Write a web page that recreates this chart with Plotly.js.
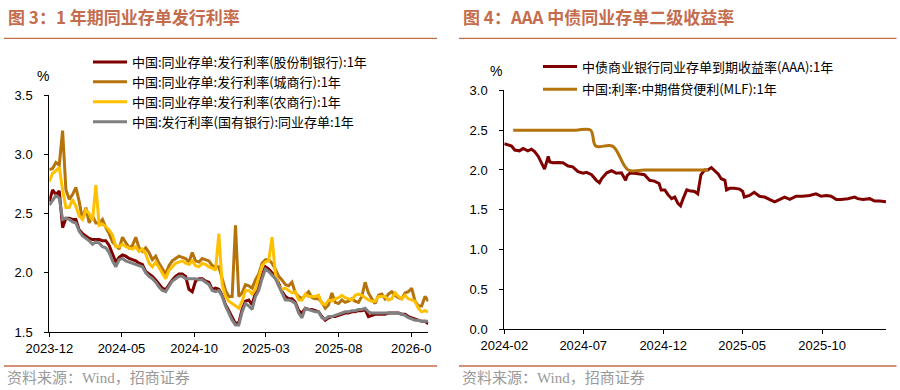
<!DOCTYPE html>
<html><head><meta charset="utf-8">
<script src="https://cdn.plot.ly/plotly-3.0.1.min.js"></script>
<style>html,body{margin:0;padding:0;background:#fff}#chart{width:900px;height:390px}</style>
</head><body><div id="chart"></div>
<script>
// ---------- Left chart: weekly issuance rates ----------
const weekDates = [
'2023-12-01','2023-12-08','2023-12-15','2023-12-22','2023-12-29',
'2024-01-05','2024-01-12','2024-01-19','2024-01-26',
'2024-02-02','2024-02-09','2024-02-16','2024-02-23',
'2024-03-01','2024-03-08','2024-03-15','2024-03-22','2024-03-29',
'2024-04-05','2024-04-12','2024-04-19','2024-04-26',
'2024-05-03','2024-05-10','2024-05-17','2024-05-24','2024-05-31',
'2024-06-07','2024-06-14','2024-06-21','2024-06-28',
'2024-07-05','2024-07-12','2024-07-19','2024-07-26',
'2024-08-02','2024-08-09','2024-08-16','2024-08-23','2024-08-30',
'2024-09-06','2024-09-13','2024-09-20','2024-09-27',
'2024-10-04','2024-10-11','2024-10-18','2024-10-25',
'2024-11-01','2024-11-08','2024-11-15','2024-11-22','2024-11-29',
'2024-12-06','2024-12-13','2024-12-20','2024-12-27',
'2025-01-03','2025-01-10','2025-01-17','2025-01-24','2025-01-31',
'2025-02-07','2025-02-14','2025-02-21','2025-02-28',
'2025-03-07','2025-03-14','2025-03-21','2025-03-28',
'2025-04-04','2025-04-11','2025-04-18','2025-04-25',
'2025-05-02','2025-05-09','2025-05-16','2025-05-23','2025-05-30',
'2025-06-06','2025-06-13','2025-06-20','2025-06-27',
'2025-07-04','2025-07-11','2025-07-18','2025-07-25',
'2025-08-01','2025-08-08','2025-08-15','2025-08-22','2025-08-29',
'2025-09-05','2025-09-12','2025-09-19','2025-09-26',
'2025-10-03','2025-10-10','2025-10-17','2025-10-24','2025-10-31',
'2025-11-07','2025-11-14','2025-11-21','2025-11-28',
'2025-12-05','2025-12-12','2025-12-19','2025-12-26',
'2026-01-02','2026-01-09','2026-01-16','2026-01-23','2026-01-30',
'2026-02-06'];

const rateJointStock = [
2.60,2.70,2.66,2.69,2.38,2.46,2.46,2.45,2.45,2.36,
2.33,2.31,2.29,2.28,2.28,2.28,2.27,2.27,2.23,2.16,
2.09,2.13,2.15,2.14,2.12,2.11,2.10,2.08,2.07,2.01,
1.99,1.97,1.94,1.90,1.87,1.855,1.90,1.94,1.97,1.99,
1.99,1.97,1.86,1.84,1.93,1.95,1.95,1.93,1.92,1.86,
1.87,1.86,1.81,1.73,1.68,1.62,1.57,1.58,1.69,1.76,
1.77,1.73,1.83,1.88,1.98,2.05,2.03,2.00,1.97,1.91,
1.84,1.80,1.78,1.78,1.75,1.68,1.66,1.70,1.69,1.69,
1.68,1.67,1.63,1.60,1.62,1.63,1.63,1.64,1.65,1.66,
1.66,1.67,1.67,1.68,1.68,1.69,1.63,1.64,1.65,1.65,
1.65,1.65,1.66,1.66,1.66,1.66,1.65,1.65,1.63,1.62,
1.61,1.60,1.59,1.59,1.57];

const rateCityBank = [
2.87,2.88,2.93,2.91,3.20,2.70,2.62,2.66,2.72,2.60,
2.45,2.55,2.42,2.48,2.42,2.42,2.45,2.38,2.33,2.26,
2.23,2.20,2.30,2.26,2.21,2.23,2.30,2.21,2.18,2.21,
2.17,2.11,2.14,2.08,2.03,1.99,2.06,2.10,2.12,2.14,
2.13,2.12,2.09,2.17,2.10,2.09,2.12,2.11,2.10,2.06,
2.05,2.05,1.94,1.85,1.80,1.80,2.40,1.80,1.83,1.90,
1.89,1.87,1.94,1.99,2.08,2.11,2.11,2.08,2.03,1.97,
1.94,1.90,1.89,1.92,1.83,1.80,1.78,1.81,1.84,1.79,
1.78,1.78,1.75,1.70,1.73,1.83,1.75,1.74,1.77,1.75,
1.76,1.78,1.76,1.75,1.80,1.92,1.83,1.78,1.74,1.81,
1.82,1.78,1.82,1.84,1.81,1.79,1.78,1.83,1.84,1.87,
1.76,1.72,1.72,1.80,1.76];

const rateRuralBank = [
2.77,2.84,2.86,2.89,2.70,2.55,2.55,2.62,2.56,2.48,
2.45,2.53,2.50,2.44,2.74,2.40,2.41,2.39,2.36,2.32,
2.22,2.22,2.24,2.22,2.21,2.20,2.22,2.18,2.20,2.16,
2.08,2.05,2.09,2.04,1.99,1.95,2.02,2.05,2.08,2.09,
2.10,2.08,2.07,2.10,2.06,2.05,2.08,2.07,2.05,2.04,
2.02,2.33,1.90,1.80,1.76,1.74,1.72,1.70,1.76,1.85,
1.85,1.82,1.86,1.95,2.06,2.09,2.10,2.30,1.99,1.89,
1.86,1.87,1.85,1.83,1.84,1.77,1.77,1.82,1.80,1.80,
1.80,1.81,1.74,1.73,1.77,1.76,1.78,1.79,1.81,1.79,
1.78,1.77,1.81,1.82,1.81,1.79,1.77,1.76,1.76,1.80,
1.80,1.80,1.77,1.78,1.83,1.80,1.78,1.81,1.78,1.77,
1.76,1.70,1.67,1.68,1.67];

const rateStateBank = [
2.57,2.61,2.65,2.63,2.45,2.46,2.45,2.43,2.42,2.35,
2.31,2.29,2.27,2.24,2.26,2.25,2.22,2.21,2.17,2.10,
2.05,2.11,2.12,2.10,2.09,2.08,2.07,2.06,2.05,2.00,
1.97,1.95,1.92,1.88,1.85,1.84,1.89,1.93,1.95,1.97,
1.97,1.95,1.95,1.95,1.95,1.94,1.94,1.92,1.90,1.85,
1.84,1.85,1.80,1.72,1.66,1.60,1.56,1.56,1.67,1.74,
1.72,1.69,1.80,1.85,1.95,2.03,2.01,1.98,1.95,1.89,
1.83,1.77,1.77,1.76,1.74,1.66,1.62,1.70,1.69,1.68,
1.67,1.67,1.62,1.61,1.63,1.63,1.64,1.65,1.66,1.67,
1.67,1.68,1.68,1.69,1.69,1.70,1.67,1.66,1.66,1.66,
1.66,1.66,1.66,1.66,1.66,1.66,1.65,1.64,1.62,1.61,
1.60,1.60,1.59,1.59,1.59];

const leftNames = [
'中国:同业存单:发行利率(股份制银行):1年',
'中国:同业存单:发行利率(城商行):1年',
'中国:同业存单:发行利率(农商行):1年',
'中国:发行利率(国有银行):同业存单:1年'];
const leftTickVals = ['2023-12-01','2024-05-01','2024-10-01','2025-03-01','2025-08-01','2026-01-01'];
const leftTickText = ['2023-12','2024-05','2024-10','2025-03','2025-08','2026-0'];

// ---------- Right chart ----------
const aaaDates = [
'2024-02-01','2024-02-09','2024-02-15','2024-02-21','2024-03-01','2024-03-08','2024-03-17','2024-03-24','2024-03-30',
'2024-04-06','2024-04-12','2024-04-18','2024-04-25','2024-04-28','2024-05-04','2024-05-14','2024-05-23',
'2024-06-02','2024-06-11','2024-06-21','2024-07-01','2024-07-07','2024-07-17','2024-07-26','2024-08-01','2024-08-05',
'2024-08-15','2024-08-24','2024-09-02','2024-09-12','2024-09-20','2024-09-23','2024-09-28','2024-10-07','2024-10-17',
'2024-10-26','2024-11-05','2024-11-14','2024-11-23','2024-11-27','2024-12-04','2024-12-10','2024-12-17','2024-12-23',
'2024-12-29','2025-01-03','2025-01-08','2025-01-15','2025-01-20','2025-01-30','2025-02-05','2025-02-11','2025-02-18',
'2025-02-24','2025-03-03','2025-03-10','2025-03-16','2025-03-22','2025-03-29','2025-04-01','2025-04-07','2025-04-16',
'2025-04-26','2025-05-02','2025-05-05','2025-05-15','2025-05-24','2025-06-03','2025-06-13','2025-06-22','2025-07-02',
'2025-07-12','2025-07-21','2025-07-31','2025-08-12','2025-08-25','2025-09-07','2025-09-19','2025-09-29','2025-10-09',
'2025-10-18','2025-10-28','2025-11-06','2025-11-19','2025-12-02','2025-12-08','2025-12-18','2025-12-31','2026-01-09',
'2026-01-19','2026-01-31'];
const aaaYield = [
2.33,2.31,2.30,2.25,2.24,2.27,2.24,2.26,2.23,
2.17,2.08,2.01,2.17,2.10,2.09,2.095,2.09,
2.05,2.04,1.98,1.96,1.97,1.94,1.87,1.84,1.89,
1.965,1.99,1.96,1.965,1.87,1.93,1.96,1.96,1.95,
1.94,1.87,1.86,1.83,1.75,1.75,1.69,1.64,1.66,
1.58,1.55,1.64,1.75,1.74,1.73,1.70,1.94,2.00,
2.00,2.03,1.98,1.95,1.89,1.87,1.75,1.77,1.77,
1.76,1.73,1.66,1.68,1.72,1.67,1.66,1.63,1.60,
1.63,1.66,1.63,1.67,1.67,1.68,1.70,1.67,1.68,
1.67,1.63,1.63,1.64,1.66,1.64,1.63,1.64,1.61,
1.61,1.60];

const mlfDates = ['2024-02-18','2024-03-15','2024-04-15','2024-05-15','2024-06-17','2024-07-15','2024-07-25',
'2024-08-26','2024-09-25','2024-10-25','2024-11-25','2024-12-25','2025-01-15','2025-02-25'];
const mlfRate = [2.5,2.5,2.5,2.5,2.5,2.5,2.3,2.3,2.0,2.0,2.0,2.0,2.0,2.0];

const rightNames = ['中债商业银行同业存单到期收益率(AAA):1年','中国:利率:中期借贷便利(MLF):1年'];
const rightTickVals = ['2024-02-01','2024-07-01','2024-12-01','2025-05-01','2025-10-01'];
const rightTickText = ['2024-02','2024-07','2024-12','2025-05','2025-10'];

// ---------- styling ----------
const W = 900, H = 390;
const px = v => v / W, py = v => 1 - v / H;
const DARKRED = '#800000', GOLD = '#B5730B', YELLOW = '#FFC000', GRAY = '#808080';
const TITLE_C = '#C56C4D';
const baseFont = "Arial, 'Liberation Sans', 'Noto Sans CJK SC', sans-serif";
const cjkFont = "'Noto Sans CJK SC', 'Liberation Sans', sans-serif";

const traces = [
  {x: weekDates, y: rateJointStock, name: leftNames[0], line: {color: DARKRED, width: 3}},
  {x: weekDates, y: rateCityBank, name: leftNames[1], line: {color: GOLD, width: 3}},
  {x: weekDates, y: rateRuralBank, name: leftNames[2], line: {color: YELLOW, width: 3}},
  {x: weekDates, y: rateStateBank, name: leftNames[3], line: {color: GRAY, width: 3}},
].map(t => Object.assign({type: 'scatter', mode: 'lines', xaxis: 'x', yaxis: 'y', legend: 'legend'}, t));

traces.push({type: 'scatter', mode: 'lines', x: aaaDates, y: aaaYield, name: rightNames[0],
  xaxis: 'x2', yaxis: 'y2', legend: 'legend2', legendgroup: 'a', line: {color: DARKRED, width: 3}});
traces.push({type: 'scatter', mode: 'lines', x: mlfDates, y: mlfRate, name: rightNames[1],
  xaxis: 'x2', yaxis: 'y2', legend: 'legend2', legendgroup: 'b', line: {color: GOLD, width: 3, shape: 'spline', smoothing: 1}});

const axisCommon = {
  showgrid: false, zeroline: false, showline: true, linecolor: '#000', linewidth: 1,
  ticks: 'outside', ticklen: 4, tickcolor: '#000', tickwidth: 1,
  tickfont: {family: baseFont, size: 13, color: '#000'}, fixedrange: true
};

const layout = {
  width: W, height: H, margin: {l: 0, r: 0, t: 0, b: 0},
  paper_bgcolor: '#fff', plot_bgcolor: '#fff', showlegend: true,
  xaxis: Object.assign({}, axisCommon, {domain: [px(49.3), px(428.3)], type: 'date',
    range: ['2023-12-01', '2026-02-06'], tickmode: 'array', tickvals: leftTickVals, ticktext: leftTickText, anchor: 'y'}),
  yaxis: Object.assign({}, axisCommon, {domain: [py(332), py(95)], range: [1.5, 3.5], dtick: 0.5, tick0: 1.5,
    tickformat: '.1f', anchor: 'x', ticklabelstandoff: 9}),
  xaxis2: Object.assign({}, axisCommon, {domain: [px(504.3), px(886)], type: 'date',
    range: ['2024-02-01', '2026-01-31'], tickmode: 'array', tickvals: rightTickVals, ticktext: rightTickText, anchor: 'y2'}),
  yaxis2: Object.assign({}, axisCommon, {domain: [py(329.3), py(90.3)], range: [0, 3.0], dtick: 0.5, tick0: 0,
    tickformat: '.1f', anchor: 'x2', ticklabelstandoff: 9}),
  legend: {x: px(88), y: py(47), xanchor: 'left', yanchor: 'top', bgcolor: 'rgba(0,0,0,0)',
    font: {family: cjkFont, size: 13, color: '#000'}, itemwidth: 34, tracegroupgap: 0},
  legend2: {x: px(538), y: py(51.5), xanchor: 'left', yanchor: 'top', bgcolor: 'rgba(0,0,0,0)',
    font: {family: cjkFont, size: 13, color: '#000'}, itemwidth: 34, traceorder: 'grouped', tracegroupgap: 3},
  annotations: [
    {text: '图 3：1 年期同业存单发行利率', x: px(6), y: py(17), xref: 'paper', yref: 'paper', xanchor: 'left', yanchor: 'middle',
      showarrow: false, font: {family: cjkFont, size: 17, color: TITLE_C, weight: 'bold'}},
    {text: '图 4：AAA 中债同业存单二级收益率', x: px(461), y: py(17), xref: 'paper', yref: 'paper', xanchor: 'left', yanchor: 'middle',
      showarrow: false, font: {family: cjkFont, size: 17, color: TITLE_C, weight: 'bold'}},
    {text: '%', x: px(42.5), y: py(76), xref: 'paper', yref: 'paper', xanchor: 'center', yanchor: 'middle',
      showarrow: false, font: {family: baseFont, size: 14, color: '#000'}},
    {text: '%', x: px(496), y: py(71), xref: 'paper', yref: 'paper', xanchor: 'center', yanchor: 'middle',
      showarrow: false, font: {family: baseFont, size: 14, color: '#000'}},
    {text: '资料来源：Wind，招商证券', x: px(5), y: py(378), xref: 'paper', yref: 'paper', xanchor: 'left', yanchor: 'middle',
      showarrow: false, font: {family: "'Liberation Serif', 'Noto Sans CJK SC', serif", size: 15, color: '#999'}},
    {text: '资料来源：Wind，招商证券', x: px(460), y: py(378), xref: 'paper', yref: 'paper', xanchor: 'left', yanchor: 'middle',
      showarrow: false, font: {family: "'Liberation Serif', 'Noto Sans CJK SC', serif", size: 15, color: '#999'}}
  ],
  shapes: [
    {type: 'line', xref: 'paper', yref: 'paper', x0: px(4), x1: px(437), y0: py(38.3), y1: py(38.3), line: {color: TITLE_C, width: 1.3}},
    {type: 'line', xref: 'paper', yref: 'paper', x0: px(459), x1: px(896.5), y0: py(38.3), y1: py(38.3), line: {color: TITLE_C, width: 1.3}},
    {type: 'line', xref: 'paper', yref: 'paper', x0: px(4), x1: px(437), y0: py(366), y1: py(366), line: {color: TITLE_C, width: 1.3}},
    {type: 'line', xref: 'paper', yref: 'paper', x0: px(459), x1: px(896.5), y0: py(366), y1: py(366), line: {color: TITLE_C, width: 1.3}}
  ]
};

Plotly.newPlot('chart', traces, layout, {staticPlot: true, displayModeBar: false});
</script></body></html>
